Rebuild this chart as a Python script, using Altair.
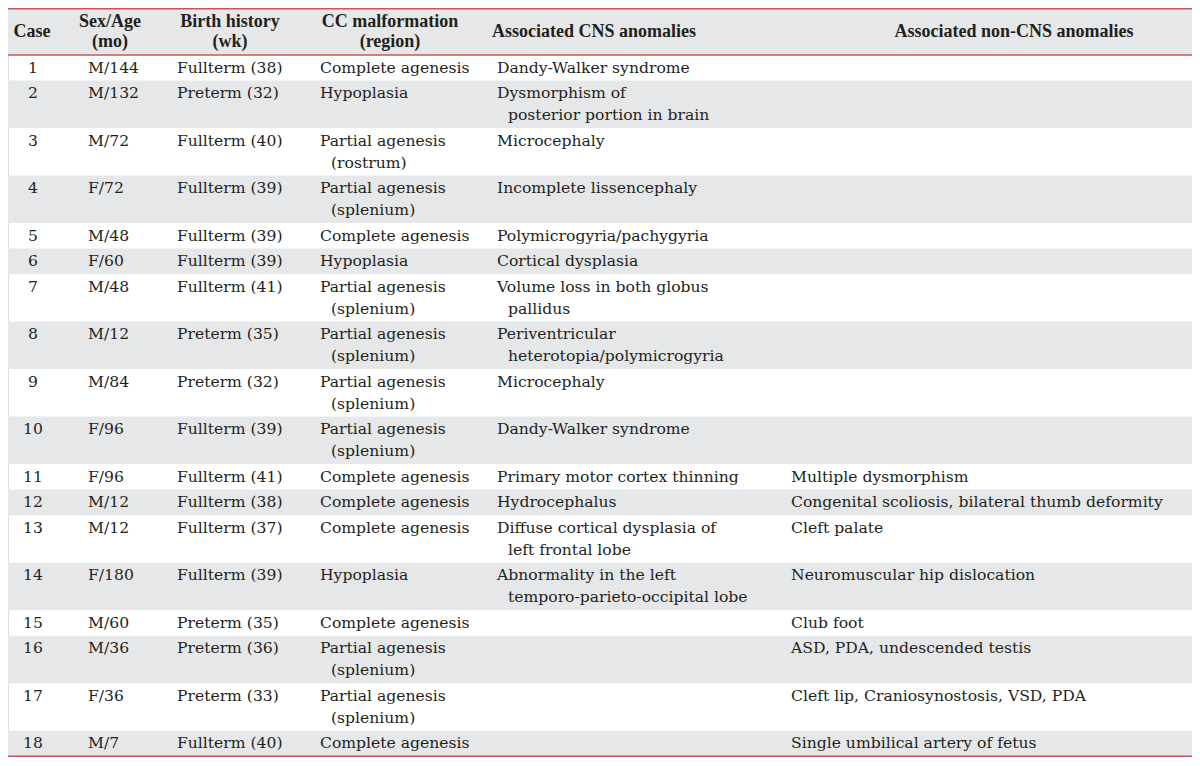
import altair as alt
import pandas as pd

# ---------------- data ----------------
headers = [["Case"], ["Sex/Age", "(mo)"], ["Birth history", "(wk)"],
           ["CC malformation", "(region)"], ["Associated CNS anomalies"],
           ["Associated non-CNS anomalies"]]

cases = [str(i) for i in range(1, 19)]
sex_age = ["M/144", "M/132", "M/72", "F/72", "M/48", "F/60", "M/48", "M/12", "M/84",
           "F/96", "F/96", "M/12", "M/12", "F/180", "M/60", "M/36", "F/36", "M/7"]
birth = ["Fullterm (38)", "Preterm (32)", "Fullterm (40)", "Fullterm (39)", "Fullterm (39)",
         "Fullterm (39)", "Fullterm (41)", "Preterm (35)", "Preterm (32)", "Fullterm (39)",
         "Fullterm (41)", "Fullterm (38)", "Fullterm (37)", "Fullterm (39)", "Preterm (35)",
         "Preterm (36)", "Preterm (33)", "Fullterm (40)"]
cc = [["Complete agenesis"], ["Hypoplasia"], ["Partial agenesis", "(rostrum)"],
      ["Partial agenesis", "(splenium)"], ["Complete agenesis"], ["Hypoplasia"],
      ["Partial agenesis", "(splenium)"], ["Partial agenesis", "(splenium)"],
      ["Partial agenesis", "(splenium)"], ["Partial agenesis", "(splenium)"],
      ["Complete agenesis"], ["Complete agenesis"], ["Complete agenesis"], ["Hypoplasia"],
      ["Complete agenesis"], ["Partial agenesis", "(splenium)"],
      ["Partial agenesis", "(splenium)"], ["Complete agenesis"]]
cns = [["Dandy-Walker syndrome"], ["Dysmorphism of", "posterior portion in brain"],
       ["Microcephaly"], ["Incomplete lissencephaly"], ["Polymicrogyria/pachygyria"],
       ["Cortical dysplasia"], ["Volume loss in both globus", "pallidus"],
       ["Periventricular", "heterotopia/polymicrogyria"], ["Microcephaly"],
       ["Dandy-Walker syndrome"], ["Primary motor cortex thinning"], ["Hydrocephalus"],
       ["Diffuse cortical dysplasia of", "left frontal lobe"],
       ["Abnormality in the left", "temporo-parieto-occipital lobe"], [], [], [], []]
noncns = [[], [], [], [], [], [], [], [], [], [],
          ["Multiple dysmorphism"], ["Congenital scoliosis, bilateral thumb deformity"],
          ["Cleft palate"], ["Neuromuscular hip dislocation"], ["Club foot"],
          ["ASD, PDA, undescended testis"], ["Cleft lip, Craniosynostosis, VSD, PDA"],
          ["Single umbilical artery of fetus"]]

# ---------------- layout (reference pixel units) ----------------
X0, X1 = 8, 1192
HEAD_TOP, HEAD_BOT = 2, 49
LINE_H = 22.3
PAD = 13
head_center = [32, 110, 230, 390, 594, 1014]
body_left = [33, 88, 177, 320, 497, 791]
INDENT = 11

columns = [[[c] for c in cases], [[s] for s in sex_age], [[b] for b in birth], cc, cns, noncns]

bg_rows, text_rows = [], []
y = HEAD_BOT
for r in range(len(cases)):
    n = max(len(col[r]) for col in columns)
    h = 2 * PAD + LINE_H * (n - 1)
    if r % 2 == 1:
        bg_rows.append({"y": y, "y2": y + h})
    for ci, col in enumerate(columns):
        for li, line in enumerate(col[r]):
            text_rows.append({
                "x": body_left[ci] + (INDENT if li > 0 else 0),
                "y": y + PAD + LINE_H * li,
                "t": line,
                "align": "center" if ci == 0 else "left",
            })
    y += h
BOTTOM = y

bg_rows.append({"y": HEAD_TOP, "y2": HEAD_BOT})
for r in bg_rows:
    r["x"], r["x2"] = X0, X1
bg = pd.DataFrame(bg_rows)

head_rows = []
hc = (HEAD_TOP + HEAD_BOT) / 2
for ci, lines in enumerate(headers):
    n = len(lines)
    for li, line in enumerate(lines):
        head_rows.append({"x": head_center[ci], "y": hc + (li - (n - 1) / 2) * 21, "t": line})
head = pd.DataFrame(head_rows)

body = pd.DataFrame(text_rows)
rules = pd.DataFrame({"y": [HEAD_TOP, HEAD_BOT, BOTTOM], "x": [X0] * 3, "x2": [X1] * 3})

W, H = 1184, 749
xs = alt.Scale(domain=[X0, X1], range=[0, W])
ys = alt.Scale(domain=[HEAD_TOP - 0.8, BOTTOM + 0.8], range=[0, H])

rect = alt.Chart(bg).mark_rect(color="#e6e7e8").encode(
    x=alt.X("x:Q", scale=xs, axis=None), x2="x2:Q",
    y=alt.Y("y:Q", scale=ys, axis=None), y2="y2:Q")

rule = alt.Chart(rules).mark_rule(color="#c4595a", strokeWidth=1.6).encode(
    x=alt.X("x:Q", scale=xs, axis=None), x2="x2:Q",
    y=alt.Y("y:Q", scale=ys, axis=None))

htext = alt.Chart(head).mark_text(font="Liberation Serif", fontWeight="bold", fontSize=18,
                                  color="#231f20", align="center", baseline="middle").encode(
    x=alt.X("x:Q", scale=xs, axis=None), y=alt.Y("y:Q", scale=ys, axis=None), text="t:N")

body_c = alt.Chart(body[body["align"] == "center"]).mark_text(
    font="DejaVu Serif", fontSize=15.6, color="#231f20", align="center", baseline="middle").encode(
    x=alt.X("x:Q", scale=xs, axis=None), y=alt.Y("y:Q", scale=ys, axis=None), text="t:N")

body_l = alt.Chart(body[body["align"] == "left"]).mark_text(
    font="DejaVu Serif", fontSize=15.6, color="#231f20", align="left", baseline="middle").encode(
    x=alt.X("x:Q", scale=xs, axis=None), y=alt.Y("y:Q", scale=ys, axis=None), text="t:N")

chart = alt.layer(rect, rule, htext, body_c, body_l).properties(
    width=W, height=H, padding=0, autosize="none"
).configure_view(stroke=None).configure(background="white")

chart.save("out.html", embed_options={"renderer": "svg", "actions": False})
